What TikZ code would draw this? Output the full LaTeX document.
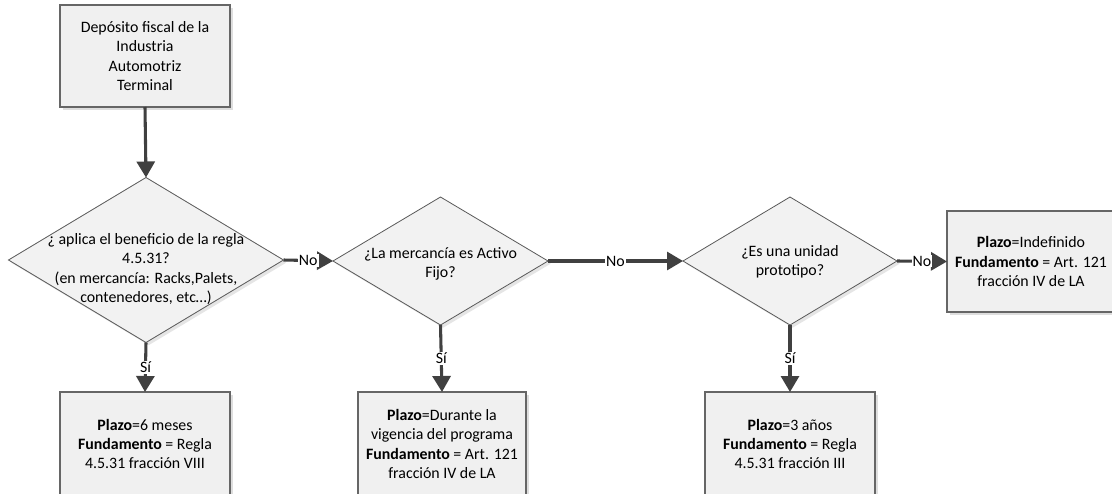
\documentclass[tikz,border=0pt]{standalone}
\usepackage{fontspec}
\setmainfont{Carlito}
\usetikzlibrary{shapes.geometric,arrows.meta,shadows}
\begin{document}
\begin{tikzpicture}[x=0.75pt,y=-0.75pt,
  fnt/.style={font=\fontsize{11.9}{14.5}\selectfont},
  box/.style={fnt, draw=black!60, line width=0.8pt, fill=black!6, inner sep=0pt, outer sep=0pt, align=center,
    drop shadow={shadow xshift=2.6pt, shadow yshift=-2.6pt, fill=black!13, opacity=1}},
  dia/.style={diamond, draw=black!65, line width=0.6pt, fill=black!5, inner sep=0pt, outer sep=0pt,
    drop shadow={shadow xshift=2pt, shadow yshift=-2pt, fill=black!10, opacity=1}},
  txt/.style={fnt, align=center, inner sep=0pt},
  conn/.style={draw=black!75, line width=2.3pt, -{Triangle[length=12pt,width=13.5pt]}},
  lab/.style={fnt, fill=white, inner sep=0.8pt, text=black}
]
\fill[white] (0,0) rectangle (1112,493);
\useasboundingbox (0,0) rectangle (1112,493);
\clip (0,0) rectangle (1112,493);

% top box
\node[box, minimum width=127.5pt, minimum height=76.5pt] (top) at (145,56)
  {Depósito fiscal de la\\Industria\\Automotriz\\Terminal};

% diamonds
\node[dia, minimum width=206.25pt, minimum height=123.75pt] (d1) at (146,260) {};
\node[txt] (d1t) at (146,269) {¿ aplica el beneficio de la regla\\4.5.31?\\(en mercancía: Racks,Palets,\\contenedores, etc…)};
\node[dia, minimum width=161.25pt, minimum height=96pt] (d2) at (440.5,261) {};
\node[txt] (d2t) at (440.5,264) {¿La mercancía es Activo\\Fijo?};
\node[dia, minimum width=160.5pt, minimum height=96pt] (d3) at (790,261) {};
\node[txt] (d3t) at (790,262) {¿Es una unidad\\prototipo?};

% result boxes
\node[box, minimum width=127.5pt, minimum height=78pt] (r1) at (145,444)
  {\textbf{Plazo}=6 meses\\\textbf{Fundamento} = Regla\\4.5.31 fracción VIII};
\node[box, minimum width=126pt, minimum height=78pt] (r2) at (442,444)
  {\textbf{Plazo}=Durante la\\vigencia del programa\\\textbf{Fundamento} = Art. 121\\fracción IV de LA};
\node[box, minimum width=127.5pt, minimum height=78pt] (r3) at (790,444)
  {\textbf{Plazo}=3 años\\\textbf{Fundamento} = Regla\\4.5.31 fracción III};
\node[box, minimum width=126pt, minimum height=75.75pt] (r4) at (1031,261.5)
  {\textbf{Plazo}=Indefinido\\\textbf{Fundamento} = Art. 121\\fracción IV de LA};

% connectors
\draw[conn] (top.south) -- (d1.north);
\draw[conn] (d1.east) -- node[lab] {No} (d2.west);
\draw[conn] (d2.east) -- node[lab] {No} (d3.west);
\draw[conn] (d3.east) -- node[lab] {No} (r4.west);
\draw[conn] (d1.south) -- node[lab] {Sí} (r1.north);
\draw[conn] (d2.south) -- node[lab] {Sí} (r2.north);
\draw[conn] (d3.south) -- node[lab] {Sí} (r3.north);
\end{tikzpicture}
\end{document}
